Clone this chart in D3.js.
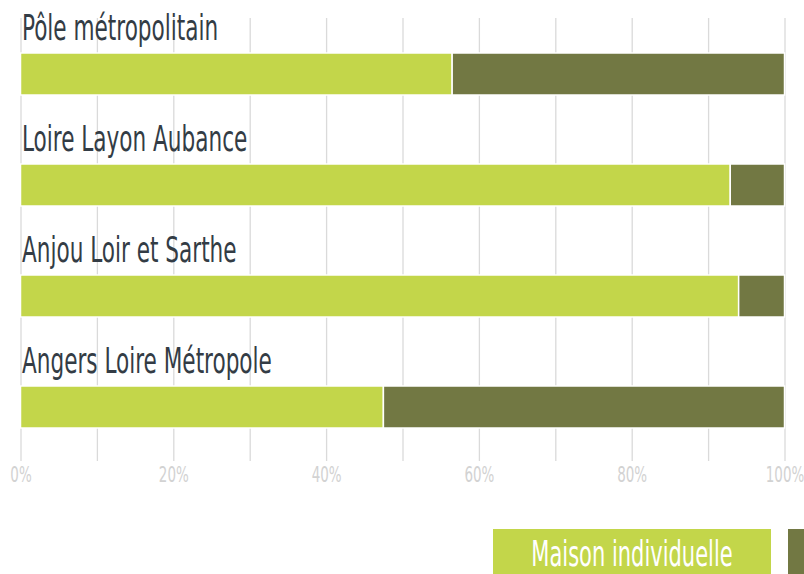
<!DOCTYPE html>
<html>
<head>
<meta charset="utf-8">
<script src="https://cdn.jsdelivr.net/npm/d3@7"></script>
<style>
  body { margin: 0; background: #fff; overflow: hidden; }
  text { font-family: "Liberation Sans Narrow", "DejaVu Sans Condensed", sans-serif; }
</style>
</head>
<body>
<script>
// territoires, du haut vers le bas
var categories = ["Pôle métropolitain", "Loire Layon Aubance", "Anjou Loir et Sarthe", "Angers Loire Métropole"]
var seriesNames = ["Maison individuelle", "Appartement"]
var maison = [56.5, 92.9, 94.0, 47.5]
var appartement = [43.5, 7.1, 6.0, 52.5]
var tickLabels = [0, 20, 40, 60, 80, 100]

var colors = ["#c3d64a", "#727843"]

var width = 804, height = 574
var margin = {top: 18, left: 20.5, right: 19.5}

var rows = categories.map(function(c, i) {
    return {cat: c, "Maison individuelle": maison[i], "Appartement": appartement[i]}
})

var svg = d3.select("body").append("svg")
    .attr("width", width)
    .attr("height", height)

var x = d3.scaleLinear().domain([0, 100]).range([margin.left, width - margin.right])

// une ligne = libellé + barre
var y = d3.scaleBand().domain(categories).range([margin.top, margin.top + 111 * 4])

var gridBottom = 461

// grille verticale tous les 10 %
svg.append("g")
    .attr("transform", "translate(0," + gridBottom + ")")
    .call(d3.axisBottom(x).tickValues(d3.range(0, 101, 10)).tickSize(-(gridBottom - margin.top)).tickFormat(""))
    .call(function(g) {
        g.select(".domain").remove()
        g.selectAll("line").attr("stroke", "#dadada").attr("stroke-width", 1.3)
    })

// étiquettes de l'axe
svg.append("g")
    .attr("transform", "translate(0," + gridBottom + ")")
    .call(d3.axisBottom(x).tickValues(tickLabels).tickSize(0).tickPadding(2).tickFormat(function(d) { return d + "%" }))
    .call(function(g) {
        g.select(".domain").remove()
        g.selectAll("text")
            .attr("fill", "#d2d2d2")
            .attr("font-size", 22)
            .attr("dy", "0.85em")
            .attr("transform", "scale(0.68,1)")
    })

var stack = d3.stack().keys(seriesNames)
var stacked = stack(rows)

var barOffset = 35, barHeight = 42

svg.append("g").selectAll("g")
    .data(stacked)
    .join("g")
    .attr("fill", function(d, i) { return colors[i] })
    .selectAll("rect")
    .data(function(d) { return d })
    .join("rect")
    .attr("x", function(d) { return x(d[0]) })
    .attr("width", function(d) { return x(d[1]) - x(d[0]) })
    .attr("y", function(d) { return y(d.data.cat) + barOffset })
    .attr("height", barHeight)
    .attr("stroke", "#fff")
    .attr("stroke-width", 1.5)

// libellés des territoires
svg.append("g").selectAll("text")
    .data(categories)
    .join("text")
    .attr("transform", function(d) { return "translate(22," + (y(d) + 22) + ") scale(0.686,1)" })
    .attr("font-size", 35)
    .attr("fill", "#333c45")
    .text(function(d) { return d })

// légende (coupée en bas à droite)
var legend = svg.append("g").attr("transform", "translate(493,529)")
legend.append("rect")
    .attr("width", 278).attr("height", 50)
    .attr("fill", colors[0])
legend.append("text")
    .attr("transform", "translate(139,37) scale(0.667,1)")
    .attr("text-anchor", "middle")
    .attr("font-size", 35)
    .attr("fill", "#fff")
    .text(seriesNames[0])
legend.append("rect")
    .attr("x", 295).attr("width", 278).attr("height", 50)
    .attr("fill", colors[1])
</script>
</body>
</html>
